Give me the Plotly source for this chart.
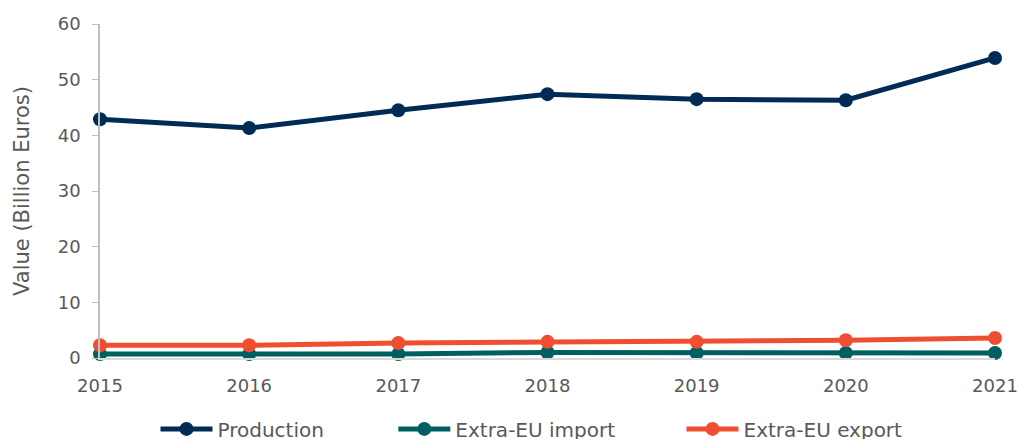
import plotly.graph_objects as go

years = [2015, 2016, 2017, 2018, 2019, 2020, 2021]
production = [42.9, 41.3, 44.5, 47.4, 46.5, 46.3, 53.9]
extra_eu_import = [0.7, 0.7, 0.7, 1.0, 0.9, 0.9, 0.9]
extra_eu_export = [2.3, 2.3, 2.7, 2.9, 2.9, 3.2, 3.6]

series = [
    ("Production", production, "#002b55", "legend", 0.1526),
    ("Extra-EU import", extra_eu_import, "#005f61", "legend2", 0.386),
    ("Extra-EU export", extra_eu_export, "#f04e30", "legend3", 0.6688),
]

fig = go.Figure()
legends = {}
for name, vals, col, leg, lx in series:
    fig.add_trace(go.Scatter(x=years, y=vals, name=name, mode="lines+markers",
                             line=dict(color=col, width=5),
                             marker=dict(color=col, size=14),
                             cliponaxis=False, legend=leg))
    legends[leg] = dict(orientation="h", xref="container", x=lx, xanchor="left",
                        yref="container", y=0.023, yanchor="middle",
                        itemwidth=52, font=dict(size=20))

fig.update_layout(
    width=1019, height=439,
    margin=dict(l=100, r=24, t=24, b=81),
    paper_bgcolor="white", plot_bgcolor="white",
    font=dict(family="DejaVu Sans", color="#595959", size=18),
    showlegend=True,
    **legends,
)
fig.update_xaxes(range=[2015, 2021], tickmode="array", tickvals=years,
                 showgrid=False, zeroline=False, showline=True, linecolor="#d9d9d9",
                 linewidth=1.5, ticks="", ticklabelstandoff=11, automargin=False,
                 tickfont=dict(size=18))
fig.update_yaxes(range=[0, 60], dtick=10, showgrid=False, zeroline=False,
                 showline=True, linecolor="#bfbfbf", linewidth=1.5,
                 ticks="outside", ticklen=6, tickcolor="#bfbfbf",
                 ticklabelstandoff=8, automargin=False,
                 title=dict(text="Value (Billion Euros)", font=dict(size=21), standoff=22),
                 tickfont=dict(size=18))

# drop the default page margin so the figure fills the window exactly
fig.write_html("out.html", config={"displayModeBar": False},
               post_script="document.body.style.margin='0';")
